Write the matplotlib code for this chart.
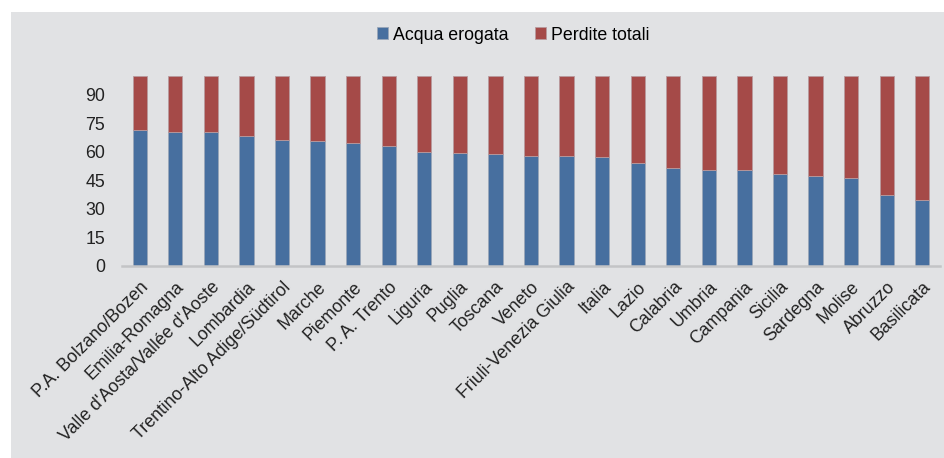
import matplotlib
matplotlib.use('Agg')

import matplotlib.pyplot as plt
import numpy as np
from matplotlib.patches import Rectangle

plt.rcParams['font.family'] = ['Liberation Sans', 'DejaVu Sans']

regioni = ['P.A. Bolzano/Bozen', 'Emilia-Romagna', "Valle d'Aosta/Vallée d'Aoste",
           'Lombardia', 'Trentino-Alto Adige/Südtirol', 'Marche', 'Piemonte',
           'P. A. Trento', 'Liguria', 'Puglia', 'Toscana', 'Veneto',
           'Friuli-Venezia Giulia', 'Italia', 'Lazio', 'Calabria', 'Umbria',
           'Campania', 'Sicilia', 'Sardegna', 'Molise', 'Abruzzo', 'Basilicata']
acqua_erogata = [71.3, 70.3, 70.2, 68.2, 66.0, 65.5, 64.5, 62.9, 60.1, 59.2, 59.0,
                 57.6, 57.6, 57.4, 54.0, 51.3, 50.3, 50.2, 48.3, 47.1, 46.1, 37.5, 34.5]
perdite_totali = [100 - v for v in acqua_erogata]
y_ticks = [0, 15, 30, 45, 60, 75, 90]

BLU = '#476f9f'
ROSSO = '#a54a48'
SFONDO = '#e1e2e4'
FS = 12.8

fig = plt.figure(figsize=(9.45, 4.58), dpi=100)
fig.patch.set_facecolor('white')
fig.patches.append(Rectangle((11 / 945, 0), 1, 1 - 12 / 458, transform=fig.transFigure,
                             facecolor=SFONDO, edgecolor='none', zorder=-10))

ax = fig.add_axes([122 / 945, 1 - 266 / 458, (940 - 122) / 945, (266 - 75.7) / 458])
ax.set_facecolor(SFONDO)

x = np.arange(len(regioni))
ax.bar(x, acqua_erogata, width=0.4, color=BLU, edgecolor='#9aa6b8', linewidth=0.6,
       label='Acqua erogata')
ax.bar(x, perdite_totali, bottom=acqua_erogata, width=0.4, color=ROSSO,
       edgecolor='#b89a9e', linewidth=0.6, label='Perdite totali')

ax.set_xlim(-0.5, len(regioni) - 0.5)
ax.set_ylim(0, 100)
ax.set_yticks(y_ticks)
ax.set_xticks(x)
ax.set_xticklabels(regioni, rotation=45, ha='right', va='top', rotation_mode='anchor')
ax.tick_params(axis='both', length=0, labelsize=FS, colors='#222222')
ax.tick_params(axis='y', pad=12)
ax.tick_params(axis='x', pad=9)

for s in ['top', 'right', 'left']:
    ax.spines[s].set_visible(False)
ax.spines['bottom'].set_color('#c3c4c6')
ax.spines['bottom'].set_linewidth(1.8)

fig.legend(loc='center', bbox_to_anchor=(513 / 945, 1 - 35 / 458), ncol=2, frameon=False,
           fontsize=FS, handlelength=0.65, handleheight=0.65, handletextpad=0.25,
           columnspacing=1.5)

fig.savefig('out.png', dpi=100, facecolor=fig.get_facecolor())
